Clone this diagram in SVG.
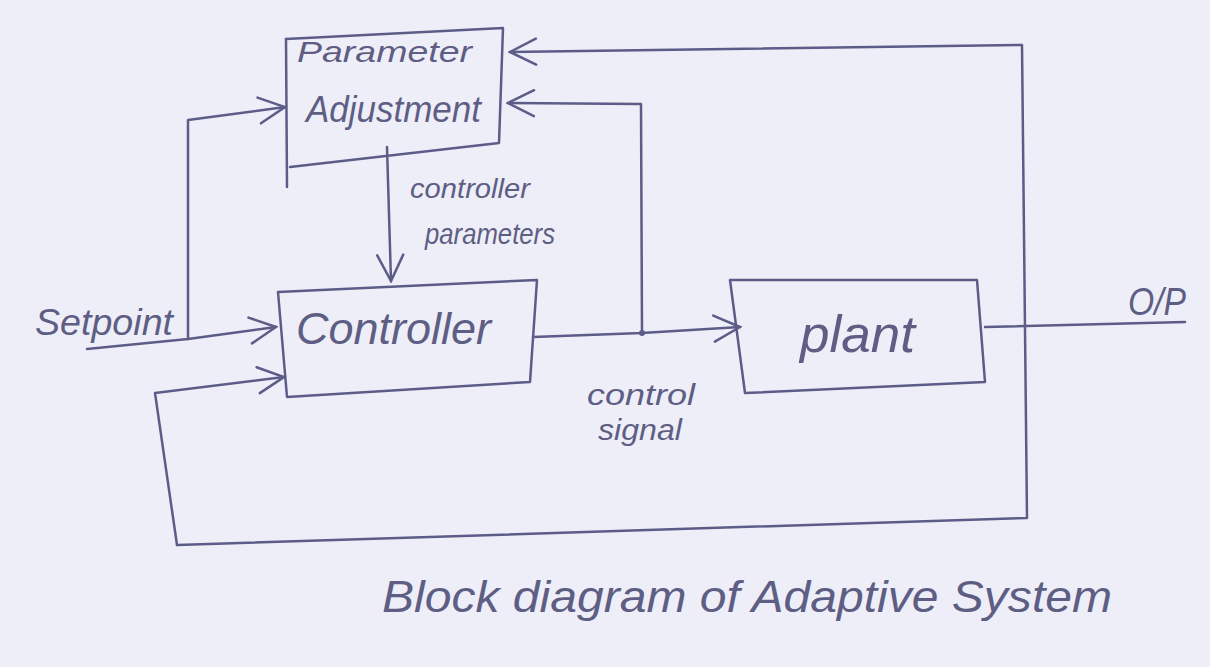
<svg xmlns="http://www.w3.org/2000/svg" width="1210" height="667" viewBox="0 0 1210 667">
<style>
.ln{fill:none;stroke:#5c5c88;stroke-width:2.5;stroke-linecap:round;stroke-linejoin:round}
.tx{font-family:"Liberation Sans",Arial,sans-serif;fill:#5e5e84;font-style:italic}
</style>
<defs>
<marker id="arrL" viewBox="0 0 30 30" refX="28" refY="15" markerWidth="30" markerHeight="30" markerUnits="userSpaceOnUse" orient="auto">
<path d="M2,2 L28,15 L2,28" fill="none" stroke="#5c5c88" stroke-width="2.5" stroke-linecap="round"/>
</marker>
</defs>
<rect width="1210" height="667" fill="#eeeef8"/>

<g id="param-adjust">
<path class="ln" d="M286,39 L503,28 L499,143 L290,167"/>
<path class="ln" d="M286,39 L287,187"/>
<text class="tx" x="297" y="62" font-size="30" textLength="175" lengthAdjust="spacingAndGlyphs">Parameter</text>
<text class="tx" x="306" y="122" font-size="36" textLength="175" lengthAdjust="spacingAndGlyphs">Adjustment</text>
</g>

<g id="controller">
<path class="ln" d="M278,292 L537,280 L530,382 L287,397 Z"/>
<text class="tx" x="296" y="344" font-size="44" textLength="195" lengthAdjust="spacingAndGlyphs">Controller</text>
</g>

<g id="plant">
<path class="ln" d="M730,280 L977,280 L985,382 L745,393 Z"/>
<text class="tx" x="800" y="352" font-size="52" textLength="115" lengthAdjust="spacingAndGlyphs">plant</text>
</g>

<g id="labels">
<text class="tx" x="35" y="335" font-size="36" textLength="138" lengthAdjust="spacingAndGlyphs">Setpoint</text>
<text class="tx" x="410" y="198" font-size="28" textLength="120" lengthAdjust="spacingAndGlyphs">controller</text>
<text class="tx" x="425" y="244" font-size="30" textLength="130" lengthAdjust="spacingAndGlyphs">parameters</text>
<text class="tx" x="587" y="405" font-size="30" textLength="108" lengthAdjust="spacingAndGlyphs">control</text>
<text class="tx" x="598" y="440" font-size="30" textLength="84" lengthAdjust="spacingAndGlyphs">signal</text>
<text class="tx" x="1128" y="315" font-size="38" textLength="58" lengthAdjust="spacingAndGlyphs">O/P</text>
<text class="tx" x="382" y="612" font-size="44" textLength="730" lengthAdjust="spacingAndGlyphs">Block diagram of Adaptive System</text>
</g>

<g id="connectors">
<path class="ln" d="M87,349 L188,339 L276,327" marker-end="url(#arrL)"/>
<path class="ln" d="M188,339 L188,120 L285,107" marker-end="url(#arrL)"/>
<path class="ln" d="M177,545 L155,393 L284,377" marker-end="url(#arrL)"/>
<path class="ln" d="M177,545 L1027,518 L1022,45 L510,52" marker-end="url(#arrL)"/>
<path class="ln" d="M387,147 L391,281" marker-end="url(#arrL)"/>
<path class="ln" d="M533,337 L642,333 L740,327" marker-end="url(#arrL)"/>
<path class="ln" d="M642,333 L641,104 L508,103" marker-end="url(#arrL)"/>
<circle cx="642" cy="333" r="3" fill="#5c5c88"/>
<path class="ln" d="M985,327 L1185,322"/>
</g>
</svg>
